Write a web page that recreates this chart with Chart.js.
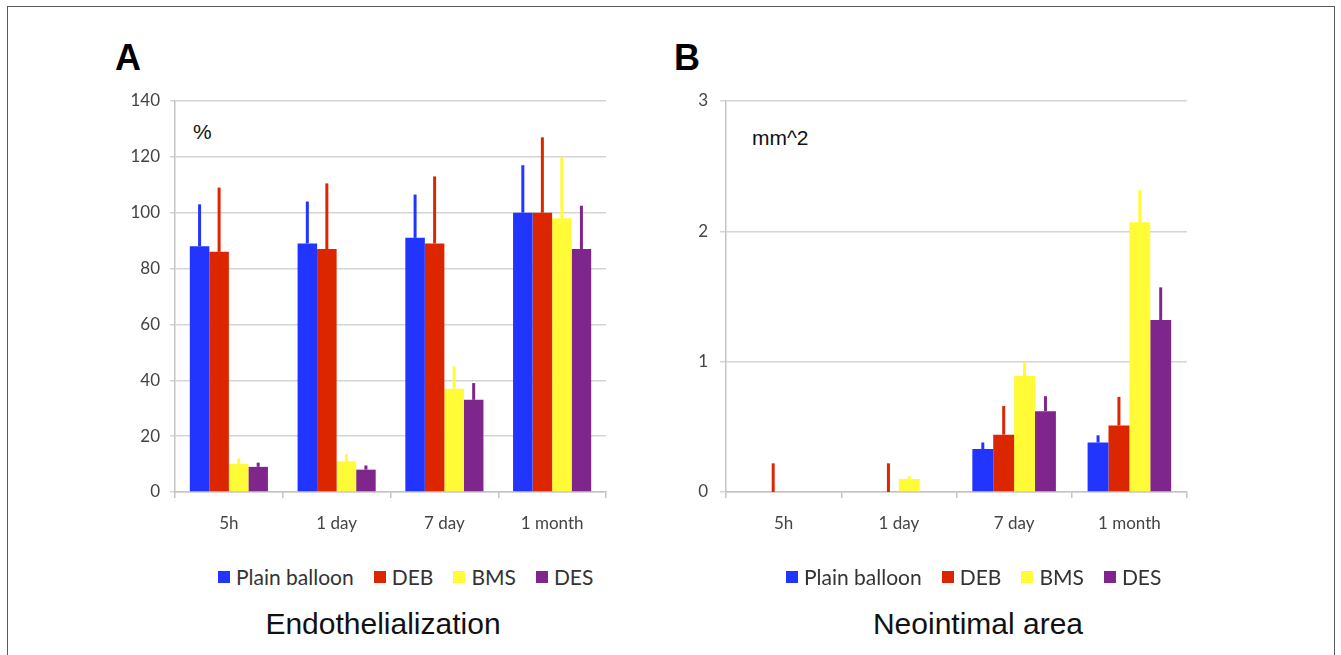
<!DOCTYPE html>
<html>
<head>
<meta charset="utf-8">
<script src="https://cdn.jsdelivr.net/npm/chart.js@4.4.1/dist/chart.umd.min.js"></script>
<style>
    body { margin: 0; width: 1341px; height: 655px; overflow: hidden; background: #fff; position: relative; font-family: "Liberation Sans", Arial, sans-serif; }
    .frame { position: absolute; left: 7px; top: 6px; width: 1326px; height: 700px; border: 1px solid #5a5a5a; border-bottom: none; }
    .letter { position: absolute; font-size: 36px; line-height: 36px; font-weight: bold; color: #000; }
    .unit { position: absolute; font-size: 21px; line-height: 21px; color: #111; }
    .title { position: absolute; width: 400px; text-align: center; font-size: 30px; line-height: 30px; color: #111; }
    .legend { position: absolute; display: flex; gap: 20px; font-family: Lato, sans-serif; font-size: 21px; line-height: 21px; color: #333; }
    .legend-item { display: flex; align-items: center; }
    .legend-box { width: 12px; height: 12px; margin-right: 6px; }
    canvas { position: absolute; top: 0; }
</style>
</head>
<body>
<div class="frame"></div>

<div class="letter" style="left:115px; top:40px;">A</div>
<div class="letter" style="left:674px; top:40px;">B</div>
<div class="unit" style="left:193px; top:121px;">%</div>
<div class="unit" style="left:752px; top:127px;">mm^2</div>

<canvas id="endoChart" width="660" height="560" style="left:0px;"></canvas>
<canvas id="neoChart" width="600" height="560" style="left:640px;"></canvas>

<div class="legend" id="legendA" style="left:218px; top:566px;"></div>
<div class="legend" id="legendB" style="left:786px; top:566px;"></div>

<div class="title" style="left:183px; top:609px;">Endothelialization</div>
<div class="title" style="left:778px; top:609px;">Neointimal area</div>

<script>
// Datos
const categories = ['5h', '1 day', '7 day', '1 month'];
const seriesNames = ['Plain balloon', 'DEB', 'BMS', 'DES'];
const seriesColors = ['#2135ff', '#dc2600', '#fffb36', '#7f268d'];

// A: Endothelialization (%), mean and SD
const endoPlain = [88, 89, 91, 100];
const endoDEB = [86, 87, 89, 100];
const endoBMS = [10, 11, 37, 98];
const endoDES = [9, 8, 33, 87];
const endoPlainSD = [15, 15, 15.5, 17];
const endoDEBSD = [23, 23.5, 24, 27];
const endoBMSSD = [2, 2.5, 8, 22];
const endoDESSD = [1.5, 1.5, 6, 15.5];
const endoTicks = [0, 20, 40, 60, 80, 100, 120, 140];

// B: Neointimal area (mm^2), mean and SD
const neoPlain = [0, 0, 0.33, 0.38];
const neoDEB = [0, 0, 0.44, 0.51];
const neoBMS = [0, 0.1, 0.89, 2.07];
const neoDES = [0, 0, 0.62, 1.32];
const neoPlainSD = [0, 0, 0.05, 0.055];
const neoDEBSD = [0.22, 0.22, 0.22, 0.22];
const neoBMSSD = [0, 0.02, 0.11, 0.245];
const neoDESSD = [0, 0, 0.115, 0.25];
const neoTicks = [0, 1, 2, 3];

// Dibuja las barras de error (solo hacia arriba)
const errorBarsPlugin = {
    id: 'errorBars',
    afterDatasetsDraw(chart) {
        const ctx = chart.ctx;
        const yScale = chart.scales.y;
        chart.data.datasets.forEach((ds, i) => {
            const meta = chart.getDatasetMeta(i);
            meta.data.forEach((bar, j) => {
                const sd = ds.sd[j];
                if (!sd) return;
                const top = yScale.getPixelForValue(ds.data[j] + sd);
                ctx.save();
                ctx.strokeStyle = ds.backgroundColor;
                ctx.lineWidth = 3;
                ctx.beginPath();
                ctx.moveTo(bar.x, bar.y);
                ctx.lineTo(bar.x, top);
                ctx.stroke();
                ctx.restore();
            });
        });
    }
};

function buildChart(canvasId, values, sds, ticks, axisWidth, rightPad, tickLen, labelPad) {
    const ctx = document.getElementById(canvasId).getContext('2d');
    return new Chart(ctx, {
        type: 'bar',
        data: {
            labels: categories,
            datasets: seriesNames.map((name, i) => ({
                label: name,
                data: values[i],
                sd: sds[i],
                backgroundColor: seriesColors[i],
                borderWidth: 0,
                categoryPercentage: 0.725,
                barPercentage: 1
            }))
        },
        options: {
            responsive: false,
            animation: false,
            layout: { padding: { top: 101, right: rightPad, bottom: 8, left: 0 } },
            plugins: {
                legend: { display: false },
                tooltip: { enabled: false }
            },
            scales: {
                x: {
                    grid: { drawOnChartArea: false, offset: true, tickLength: 6, color: '#c4c4c4', lineWidth: 1.5 },
                    border: { color: '#c4c4c4', width: 1.5 },
                    ticks: { color: '#444', font: { family: 'Lato', size: 17 }, padding: 15 },
                    afterFit: scale => { scale.height = 60; }
                },
                y: {
                    min: ticks[0],
                    max: ticks[ticks.length - 1],
                    afterBuildTicks: scale => { scale.ticks = ticks.map(v => ({ value: v })); },
                    grid: { color: '#d4d4d4', lineWidth: 1.5, tickLength: tickLen },
                    border: { color: '#c4c4c4', width: 1.5 },
                    ticks: { color: '#444', font: { family: 'Lato', size: 17 }, padding: labelPad },
                    afterFit: scale => { scale.width = axisWidth; }
                }
            }
        },
        plugins: [errorBarsPlugin]
    });
}

// Leyenda HTML
function buildLegend(id) {
    const el = document.getElementById(id);
    seriesNames.forEach((name, i) => {
        const item = document.createElement('div');
        item.className = 'legend-item';
        item.innerHTML = '<span class="legend-box" style="background:' + seriesColors[i] + '"></span>' + name;
        el.appendChild(item);
    });
}

buildChart('endoChart',
    [endoPlain, endoDEB, endoBMS, endoDES],
    [endoPlainSD, endoDEBSD, endoBMSSD, endoDESSD],
    endoTicks, 175, 54, 5, 10);
buildChart('neoChart',
    [neoPlain, neoDEB, neoBMS, neoDES],
    [neoPlainSD, neoDEBSD, neoBMSSD, neoDESSD],
    neoTicks, 86, 53, 6, 12);
buildLegend('legendA');
buildLegend('legendB');
console.log('Gráficos inicializados');
</script>
</body>
</html>
